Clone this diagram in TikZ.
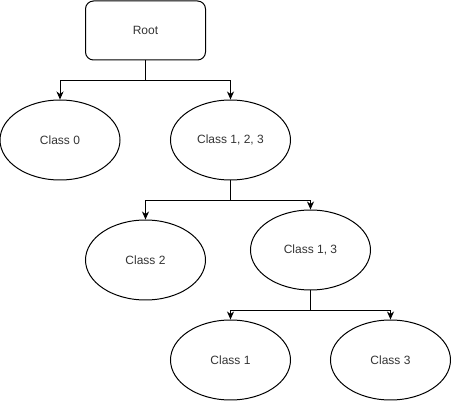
\documentclass[tikz,border=0pt]{standalone}
\usepackage{fontspec}
\setmainfont{Liberation Sans}
\usetikzlibrary{arrows.meta,shapes.geometric}
\tikzset{
	>={Stealth[length=8pt,width=7pt,inset=2.5pt]},
	classnode/.style={draw, ellipse, minimum width=120pt, minimum height=80pt,
	                  inner sep=0pt, text=black!80},
	rootnode/.style={draw, rectangle, rounded corners=8pt, minimum width=120pt,
	                 minimum height=59pt, inner sep=0pt, text=black!80},
	branch/.style={->, line width=1pt},
}

\begin{document}
\begin{tikzpicture}[x=1pt, y=-1pt, font=\fontsize{12pt}{14pt}\selectfont, line width=1pt]

\useasboundingbox (0,0) rectangle (451,401);

\node[rootnode](root) at (145.5,30.5) {Root};
\node[classnode](c0) at (60,140) {Class 0};
\node[classnode](c123) at (230.5,140) {Class 1, 2, 3};
\node[classnode](c2) at (145.5,260) {Class 2};
\node[classnode](c13) at (310.5,250) {Class 1, 3};
\node[classnode](c1) at (230.5,360) {Class 1};
\node[classnode](c3) at (390.5,360) {Class 3};

% first split
\draw[branch] (root.south) -- ++(0,20) -| (c0);
\draw[branch] (root.south) -- ++(0,20) -| (c123);

% second split
\draw[branch] (c123.south) -- ++(0,20) -| (c2);
\draw[branch] (c123.south) -- ++(0,20) -| (c13);

% third split
\draw[branch] (c13.south) -- ++(0,20) -| (c1);
\draw[branch] (c13.south) -- ++(0,20) -| (c3);

\end{tikzpicture}
\end{document}
